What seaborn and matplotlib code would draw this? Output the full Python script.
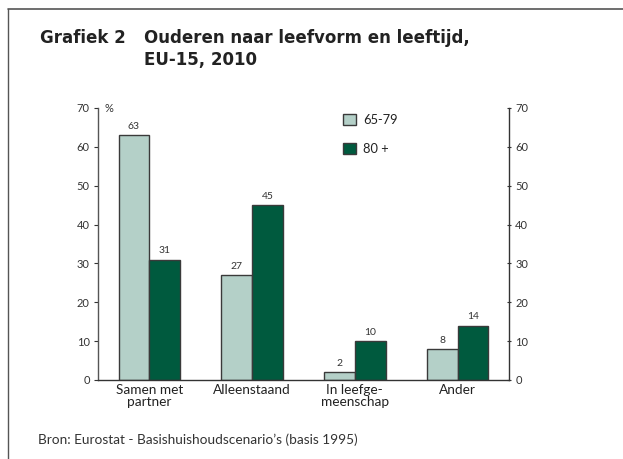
import matplotlib
matplotlib.use("Agg")
import matplotlib.pyplot as plt
from matplotlib.lines import Line2D
from matplotlib.patches import Rectangle
import seaborn as sns
import pandas as pd

categories = ["Samen met\npartner", "Alleenstaand", "In leefge-\nmeenschap", "Ander"]
series_names = ["65-79", "80 +"]
values_6579 = [63, 27, 2, 8]
values_80 = [31, 45, 10, 14]
y_ticks = [0, 10, 20, 30, 40, 50, 60, 70]

colors = ["#b4d0c8", "#005a3e"]
edge = "#3a3a3a"
txt = "#333333"

sns.set_theme(style="white")
plt.rcParams["font.family"] = ["Lato", "DejaVu Sans"]

df = pd.DataFrame({
    "cat": categories * 2,
    "grp": [series_names[0]] * 4 + [series_names[1]] * 4,
    "val": values_6579 + values_80,
})

fig = plt.figure(figsize=(6.23, 4.59), dpi=100)
ax = fig.add_axes([98/623, 1-380/459, (509-98)/623, (380-108)/459])

sns.barplot(data=df, x="cat", y="val", hue="grp", palette=colors, width=0.6,
            edgecolor=edge, linewidth=1.0, ax=ax, legend=False, saturation=1)

ax.set_xlim(-0.5, 3.5)
ax.set_ylim(0, 70)
ax.set_yticks(y_ticks)
ax.set_yticklabels([str(t) for t in y_ticks], fontsize=8, color=txt)
ax.set_xlabel("")
ax.set_ylabel("")
ax.set_xticks([0, 1, 2, 3])
ax.set_xticklabels(categories, fontsize=9.8, color="#222222", linespacing=1.0)
ax.tick_params(axis="x", length=0, pad=3)
ax.tick_params(axis="y", length=3, width=0.8, color=txt, pad=3, direction="out")
ax.set_xticks([-0.5, 0.5, 1.5, 2.5, 3.5], minor=True)
ax.tick_params(axis="x", which="minor", length=3, width=0.8, color=txt, direction="out")

ax.spines["top"].set_visible(False)
ax.spines["left"].set_color("#555555")
ax.spines["left"].set_linewidth(1.0)
ax.spines["bottom"].set_color("#333333")
ax.spines["bottom"].set_linewidth(1.0)
ax.spines["right"].set_visible(False)

ax2 = ax.twinx()
ax2.set_ylim(0, 70)
ax2.set_yticks(y_ticks)
ax2.set_yticklabels([str(t) for t in y_ticks], fontsize=8, color=txt)
ax2.tick_params(axis="y", length=3, width=0.8, color=txt, pad=3, direction="inout")
ax2.spines["top"].set_visible(False)
ax2.spines["left"].set_visible(False)
ax2.spines["bottom"].set_visible(False)
ax2.spines["right"].set_color("#333333")
ax2.spines["right"].set_linewidth(1.0)
ax2.grid(False)
ax.grid(False)

for cont in ax.containers:
    ax.bar_label(cont, fmt="%d", padding=3, fontsize=7.5, color=txt)

ax.text(-0.44, 70, "%", fontsize=8, color=txt, va="center", ha="left")

handles = [Rectangle((0, 0), 1, 1, facecolor=c, edgecolor=edge, linewidth=1.0) for c in colors]
fig.legend(handles, series_names, loc="upper left", bbox_to_anchor=(331/623, 1-102/459),
           frameon=False, fontsize=9.3, handlelength=1.0, handleheight=1.0,
           labelspacing=1.3, handletextpad=0.6, labelcolor="#222222")

fig.add_artist(Line2D([8/623, 8/623], [0, 1-8.5/459], color="#555555", lw=1.0))
fig.add_artist(Line2D([8/623, 1], [1-8.5/459, 1-8.5/459], color="#555555", lw=1.2))

tfont = ["DejaVu Sans"]
fig.text(40/623, 1-38/459, "Grafiek 2", fontsize=12, fontweight="bold", color="#222222",
         va="center", family=tfont)
fig.text(144/623, 1-38/459, "Ouderen naar leefvorm en leeftijd,", fontsize=12, fontweight="bold",
         color="#222222", va="center", family=tfont)
fig.text(144/623, 1-60/459, "EU-15, 2010", fontsize=12, fontweight="bold", color="#222222",
         va="center", family=tfont)

fig.text(38/623, 1-440/459, "Bron: Eurostat - Basishuishoudscenario\u2019s (basis 1995)", fontsize=9.8,
         color="#333333", va="center")

fig.savefig("out.png", dpi=100)
